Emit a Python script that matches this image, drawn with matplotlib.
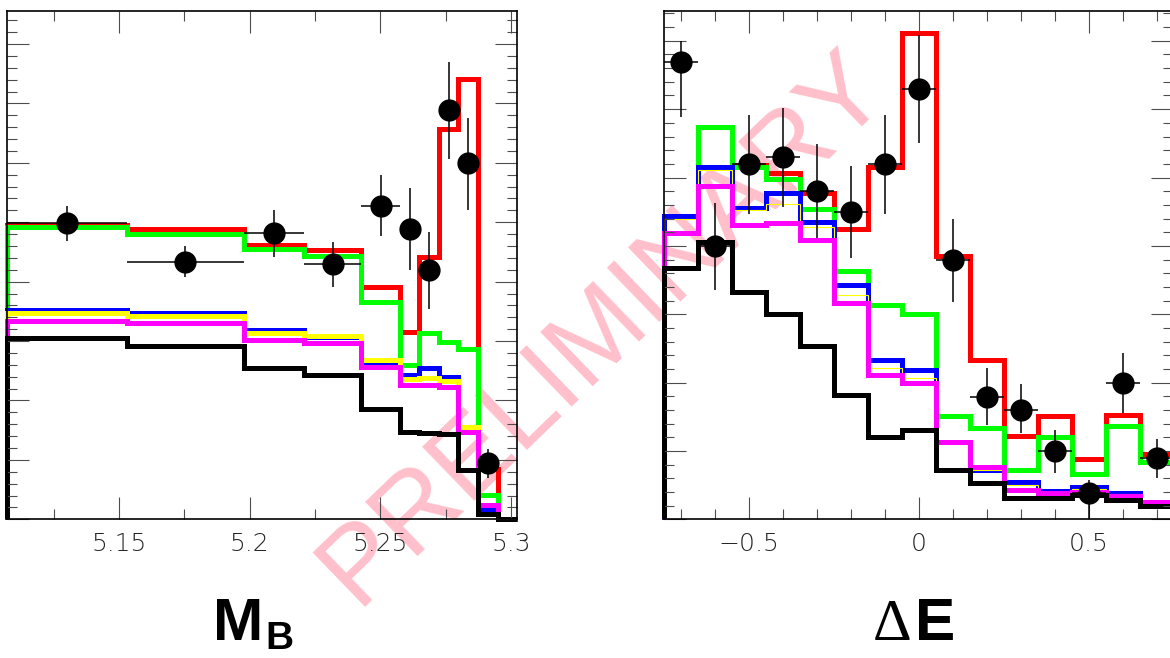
import matplotlib
matplotlib.use("Agg")
import matplotlib.pyplot as plt
from matplotlib.ticker import MultipleLocator, FixedLocator

# M_B panel: variable bin edges and histogram contents
mb_edges = [5.1073, 5.1530, 5.1979, 5.2209, 5.2426, 5.2577, 5.2648, 5.2726, 5.2797, 5.2875, 5.2952, 5.3023]
mb_red = [4.95, 4.88, 4.61, 4.53, 3.91, 3.16, 4.42, 6.57, 7.41, 0.84, 0.0]
mb_green = [4.92, 4.81, 4.55, 4.43, 3.65, 2.60, 3.13, 2.98, 2.87, 0.41, 0.0]
mb_blue = [3.52, 3.47, 3.18, 3.06, 2.64, 2.43, 2.54, 2.40, 1.55, 0.17, 0.0]
mb_yellow = [3.47, 3.43, 3.14, 3.09, 2.68, 2.36, 2.37, 2.33, 1.56, 0.24, 0.0]
mb_magenta = [3.34, 3.30, 3.01, 2.96, 2.57, 2.26, 2.26, 2.22, 1.47, 0.24, 0.0]
mb_black = [3.05, 2.92, 2.54, 2.43, 1.85, 1.47, 1.46, 1.43, 0.83, 0.09, 0.0]
mb_data = [4.98, 4.33, 4.82, 4.29, 5.28, 4.88, 4.20, 6.89, 5.99, 0.94]
mb_err_lo = [0.29, 0.26, 0.40, 0.38, 0.51, 0.68, 0.66, 0.83, 0.78, 0.25]
mb_err_hi = [0.29, 0.27, 0.39, 0.37, 0.52, 0.69, 0.63, 0.81, 0.76, 0.24]
mb_ticks = [5.15, 5.2, 5.25, 5.3]
mb_ticklabels = ["5.15", "5.2", "5.25", "5.3"]

# Delta E panel
de_edges = [-0.75, -0.65, -0.55, -0.45, -0.35, -0.25, -0.15, -0.05, 0.05, 0.15, 0.25, 0.35, 0.45, 0.55, 0.65, 0.75]
de_red = [4.44, 5.74, 5.19, 5.06, 4.77, 4.24, 5.15, 7.11, 3.85, 2.33, 1.22, 1.51, 0.88, 1.52, 0.95]
de_green = [4.44, 5.74, 5.15, 4.98, 4.54, 3.63, 3.13, 3.01, 1.51, 1.34, 0.72, 1.21, 0.66, 1.36, 0.84]
de_blue = [4.44, 5.15, 4.56, 4.77, 4.35, 3.43, 2.33, 2.19, 1.13, 0.72, 0.54, 0.42, 0.47, 0.39, 0.25]
de_yellow = [4.39, 5.11, 4.53, 4.61, 4.28, 3.28, 2.22, 2.06, 1.13, 0.72, 0.50, 0.40, 0.44, 0.37, 0.25]
de_magenta = [4.19, 4.88, 4.30, 4.34, 4.09, 3.16, 2.11, 1.99, 1.13, 0.76, 0.43, 0.38, 0.40, 0.34, 0.25]
de_black = [3.67, 4.06, 3.33, 3.01, 2.54, 1.82, 1.21, 1.31, 0.72, 0.53, 0.31, 0.31, 0.36, 0.28, 0.19]
de_data = [6.69, 4.00, 5.20, 5.30, 4.80, 4.49, 5.20, 6.30, 3.79, 1.79, 1.60, 1.00, 0.38, 1.99, 0.90]
de_err_lo = [0.80, 0.65, 0.73, 0.73, 0.69, 0.67, 0.73, 0.79, 0.61, 0.41, 0.34, 0.32, 0.38, 0.43, 0.30]
de_err_hi = [0.31, 0.62, 0.71, 0.72, 0.69, 0.68, 0.71, 0.79, 0.61, 0.42, 0.38, 0.31, 0.20, 0.45, 0.27]
de_ticks = [-0.5, 0.0, 0.5]
de_ticklabels = ["\u22120.5", "0", "0.5"]


def draw_panel(ax, edges, hists, data, err_lo, err_hi, ymax, thin_yellow=False):
    colors = ["red", "#00ff00", "blue", "yellow", "magenta", "black"]
    for vals, c in zip(hists, colors):
        lw = 0.8 if (thin_yellow and c == "yellow") else 3.6
        ax.stairs(vals, edges, baseline=0, color=c, lw=lw, clip_on=False)
    n = len(data)
    xc = [(edges[i] + edges[i + 1]) / 2 for i in range(n)]
    xe = [(edges[i + 1] - edges[i]) / 2 for i in range(n)]
    ax.errorbar(xc, data, yerr=[err_lo, err_hi], xerr=xe, fmt="o", color="black",
                ms=15, elinewidth=1.1, capsize=0, zorder=5)
    ax.set_xlim(edges[0], edges[-1])
    ax.set_ylim(0, ymax)
    ax.set_facecolor("none")
    ax.yaxis.set_major_locator(MultipleLocator(1))
    ax.yaxis.set_minor_locator(MultipleLocator(0.2))
    ax.tick_params(which="both", direction="in", top=True, right=True, labelleft=False,
                   color="0.3", width=0.8, labelsize=18, pad=9, labelcolor="0.15")
    ax.tick_params(which="major", length=15.6)
    ax.tick_params(which="minor", length=7.5)
    for s in ax.spines.values():
        s.set_linewidth(1.2)


fig = plt.figure(figsize=(11.7, 6.58), dpi=100)

ax1 = fig.add_axes([0.00632, 0.2108, 0.43556, 0.7729])
draw_panel(ax1, mb_edges, [mb_red, mb_green, mb_blue, mb_yellow, mb_magenta, mb_black],
           mb_data, mb_err_lo, mb_err_hi, 8.56)
ax1.xaxis.set_major_locator(FixedLocator(mb_ticks))
ax1.set_xticklabels(mb_ticklabels, fontweight="light")
ax1.xaxis.set_minor_locator(MultipleLocator(0.025))

ax2 = fig.add_axes([0.56726, 0.2108, 0.43573, 0.7729])
draw_panel(ax2, de_edges, [de_red, de_green, de_blue, de_yellow, de_magenta, de_black],
           de_data, de_err_lo, de_err_hi, 7.44, thin_yellow=True)
ax2.xaxis.set_major_locator(FixedLocator(de_ticks))
ax2.set_xticklabels(de_ticklabels, fontweight="light")
ax2.xaxis.set_minor_locator(MultipleLocator(0.1))

# axis titles
fig.text(213 / 1170, 1 - 640 / 658, "M", fontsize=43.5, fontweight="bold",
         family="Liberation Sans", ha="left", va="baseline")
fig.text(265 / 1170, 1 - 649 / 658, "B", fontsize=28, fontweight="bold",
         family="Liberation Sans", ha="left", va="baseline")
fig.text(873 / 1170, 1 - 640 / 658, "\u0394", fontsize=43.5,
         family="Liberation Serif", ha="left", va="baseline")
fig.text(915 / 1170, 1 - 640 / 658, "E", fontsize=43.5, fontweight="bold",
         family="Liberation Sans", ha="left", va="baseline")

# watermark
fig.text(0.516, 0.50, "PRELIMINARY", fontsize=79, color="pink", rotation=44,
         ha="center", va="center", rotation_mode="anchor",
         family="Liberation Sans", zorder=-1)

fig.savefig("out.png", dpi=100)
